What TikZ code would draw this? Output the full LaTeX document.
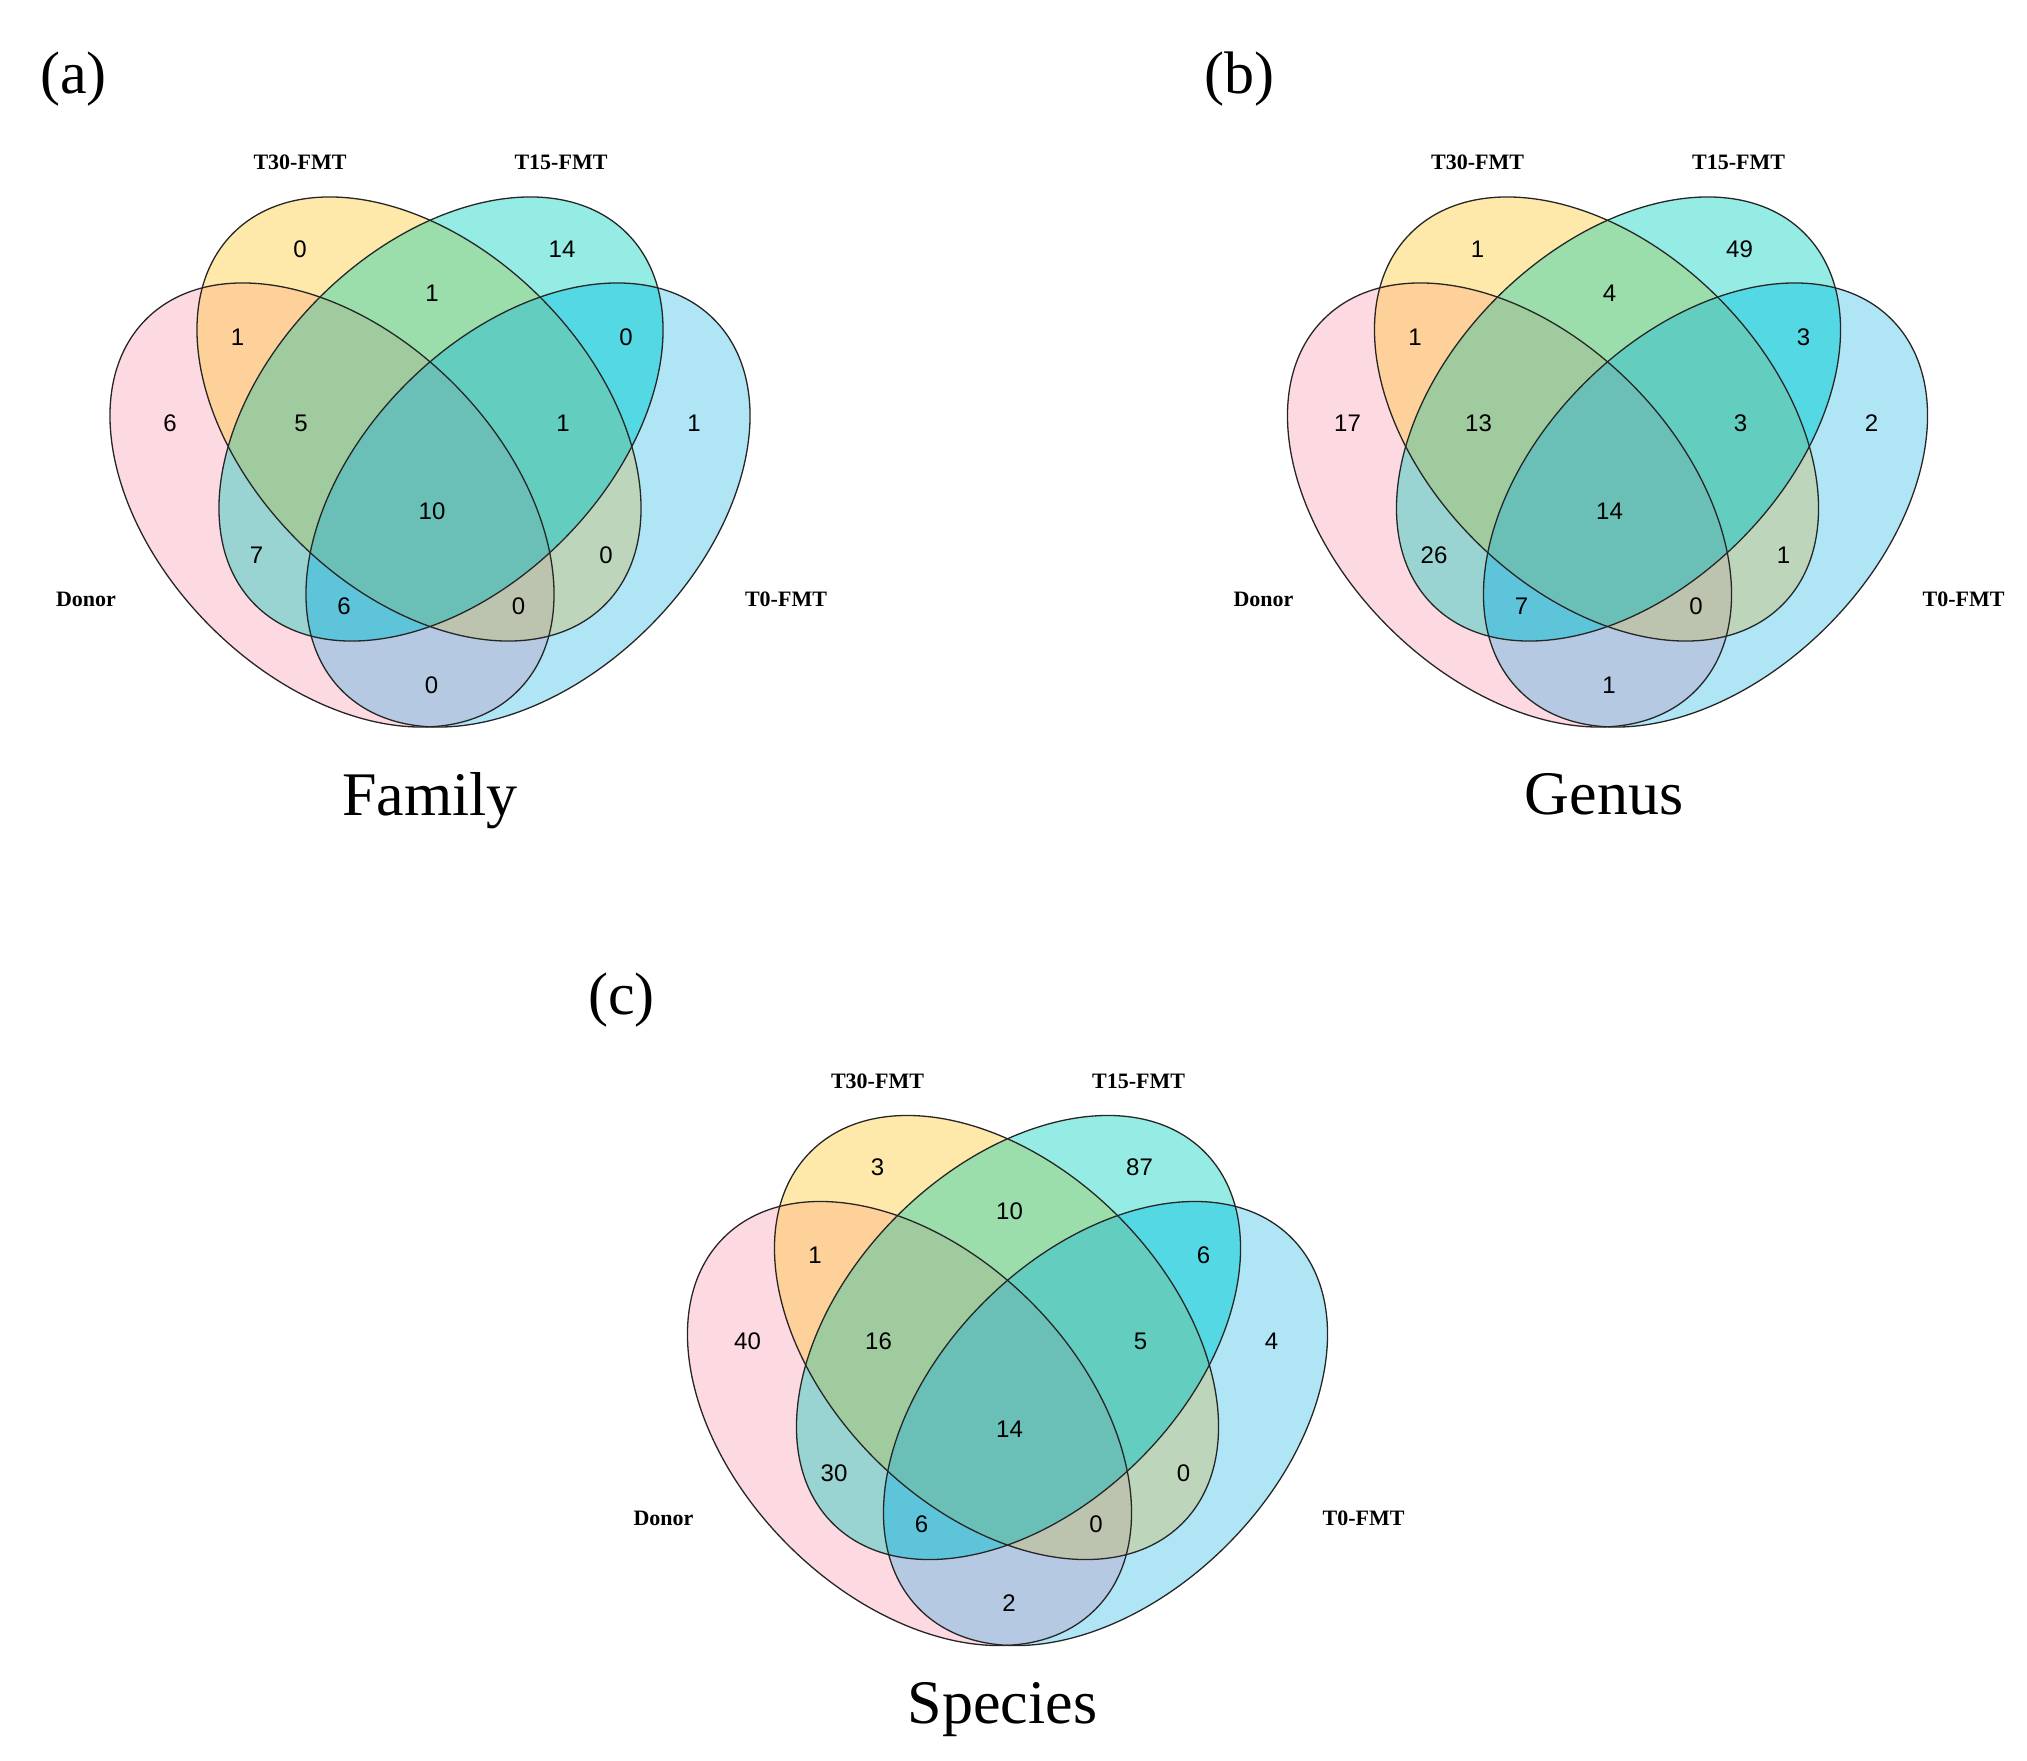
\documentclass[tikz,border=0pt]{standalone}
\usepackage{fontspec}
\setmainfont{Liberation Serif}
\newfontfamily\numfont{Liberation Sans}
\definecolor{cD}{RGB}{253,217,226}
\definecolor{cY}{RGB}{254,232,170}
\definecolor{cT}{RGB}{149,236,229}
\definecolor{cB}{RGB}{176,229,246}
\definecolor{cDY}{RGB}{254,208,154}
\definecolor{cYT}{RGB}{155,222,172}
\definecolor{cTB}{RGB}{84,216,227}
\definecolor{cDT}{RGB}{153,211,210}
\definecolor{cYB}{RGB}{189,213,186}
\definecolor{cDB}{RGB}{181,201,226}
\definecolor{cDYT}{RGB}{159,203,158}
\definecolor{cYTB}{RGB}{99,206,191}
\definecolor{cDTB}{RGB}{94,196,218}
\definecolor{cDYB}{RGB}{188,195,174}
\definecolor{cDYTB}{RGB}{106,192,182}
\newcommand\vD[1]{#1[rotate around={-45:(332,505)}] (332,505) ellipse (262.8 and 171.8);}
\newcommand\vY[1]{#1[rotate around={-45:(419,419)}] (419,419) ellipse (262.8 and 171.8);}
\newcommand\vT[1]{#1[rotate around={45:(441,419)}] (441,419) ellipse (262.8 and 171.8);}
\newcommand\vB[1]{#1[rotate around={45:(528,505)}] (528,505) ellipse (262.8 and 171.8);}
\newcommand\reg[2]{\begin{scope}#2\fill[#1] (0,0) rectangle (900,900);\end{scope}}
\newcommand\venndiagram{%
  \reg{cD}{\vD\clip}\reg{cY}{\vY\clip}\reg{cT}{\vT\clip}\reg{cB}{\vB\clip}%
  \reg{cDY}{\vD\clip\vY\clip}\reg{cYT}{\vY\clip\vT\clip}\reg{cTB}{\vT\clip\vB\clip}%
  \reg{cDT}{\vD\clip\vT\clip}\reg{cYB}{\vY\clip\vB\clip}\reg{cDB}{\vD\clip\vB\clip}%
  \reg{cDYT}{\vD\clip\vY\clip\vT\clip}\reg{cYTB}{\vY\clip\vT\clip\vB\clip}%
  \reg{cDTB}{\vD\clip\vT\clip\vB\clip}\reg{cDYB}{\vD\clip\vY\clip\vB\clip}%
  \reg{cDYTB}{\vD\clip\vY\clip\vT\clip\vB\clip}%
  \vD{\draw[outline]}\vY{\draw[outline]}\vT{\draw[outline]}\vB{\draw[outline]}}
\begin{document}
\begin{tikzpicture}[x=0.5pt,y=-0.5pt,
  num/.style={font=\numfont\fontsize{12}{14}\selectfont, inner sep=0pt},
  setlab/.style={font=\bfseries\fontsize{11}{13}\selectfont, inner sep=0pt, anchor=base},
  title/.style={font=\fontsize{31}{36}\selectfont, inner sep=0pt, anchor=base},
  panel/.style={font=\fontsize{30}{36}\selectfont, inner sep=0pt},
  outline/.style={draw=black!85, line width=0.65pt}]
\useasboundingbox (0,0) rectangle (2027,1760);
% ---------- (a) ----------
\begin{scope}
\venndiagram
\foreach \pos/\val [count=\k] in {{(300,249)}/0,{(562,249)}/14,{(432,293)}/1,{(237.5,337)}/1,{(626,337)}/0,{(170,423)}/6,{(301,423)}/5,{(563,423)}/1,{(694,423)}/1,{(432,511)}/10,{(256.5,555)}/7,{(606,555)}/0,{(344,606)}/6,{(518.5,606)}/0,{(431.5,685)}/0}
  \node[num] (a\k) at \pos {\val};
\node[setlab] (aT30) at (300,170) {T30-FMT};
\node[setlab] (aT15) at (561,170) {T15-FMT};
\node[setlab] (aDon) at (86,606.5) {Donor};
\node[setlab] (aT0) at (786,606.5) {T0-FMT};
\end{scope}
\node[panel] (pa) at (73.5,79) {(a)};
\node[title] (ta) at (430,815) {Family};
% ---------- (b) ----------
\begin{scope}[shift={(1177.5,0)}]
\venndiagram
\foreach \pos/\val [count=\k] in {{(300,249)}/1,{(562,249)}/49,{(432,293)}/4,{(237.5,337)}/1,{(626,337)}/3,{(170,423)}/17,{(301,423)}/13,{(563,423)}/3,{(694,423)}/2,{(432,511)}/14,{(256.5,555)}/26,{(606,555)}/1,{(344,606)}/7,{(518.5,606)}/0,{(431.5,685)}/1}
  \node[num] (b\k) at \pos {\val};
\node[setlab] (bT30) at (300,170) {T30-FMT};
\node[setlab] (bT15) at (561,170) {T15-FMT};
\node[setlab] (bDon) at (86,606.5) {Donor};
\node[setlab] (bT0) at (786,606.5) {T0-FMT};
\end{scope}
\node[panel] (pb) at (1239,79) {(b)};
\node[title] (tb) at (1604,814) {Genus};
% ---------- (c) ----------
\begin{scope}[shift={(577.5,918.5)}]
\venndiagram
\foreach \pos/\val [count=\k] in {{(300,249)}/3,{(562,249)}/87,{(432,293)}/10,{(237.5,337)}/1,{(626,337)}/6,{(170,423)}/40,{(301,423)}/16,{(563,423)}/5,{(694,423)}/4,{(432,511)}/14,{(256.5,555)}/30,{(606,555)}/0,{(344,606)}/6,{(518.5,606)}/0,{(431.5,685)}/2}
  \node[num] (c\k) at \pos {\val};
\node[setlab] (cT30) at (300,170) {T30-FMT};
\node[setlab] (cT15) at (561,170) {T15-FMT};
\node[setlab] (cDon) at (86,606.5) {Donor};
\node[setlab] (cT0) at (786,606.5) {T0-FMT};
\end{scope}
\node[panel] (pc) at (621.5,1000) {(c)};
\node[title] (tc) at (1002.5,1723) {Species};
\end{tikzpicture}
\end{document}
